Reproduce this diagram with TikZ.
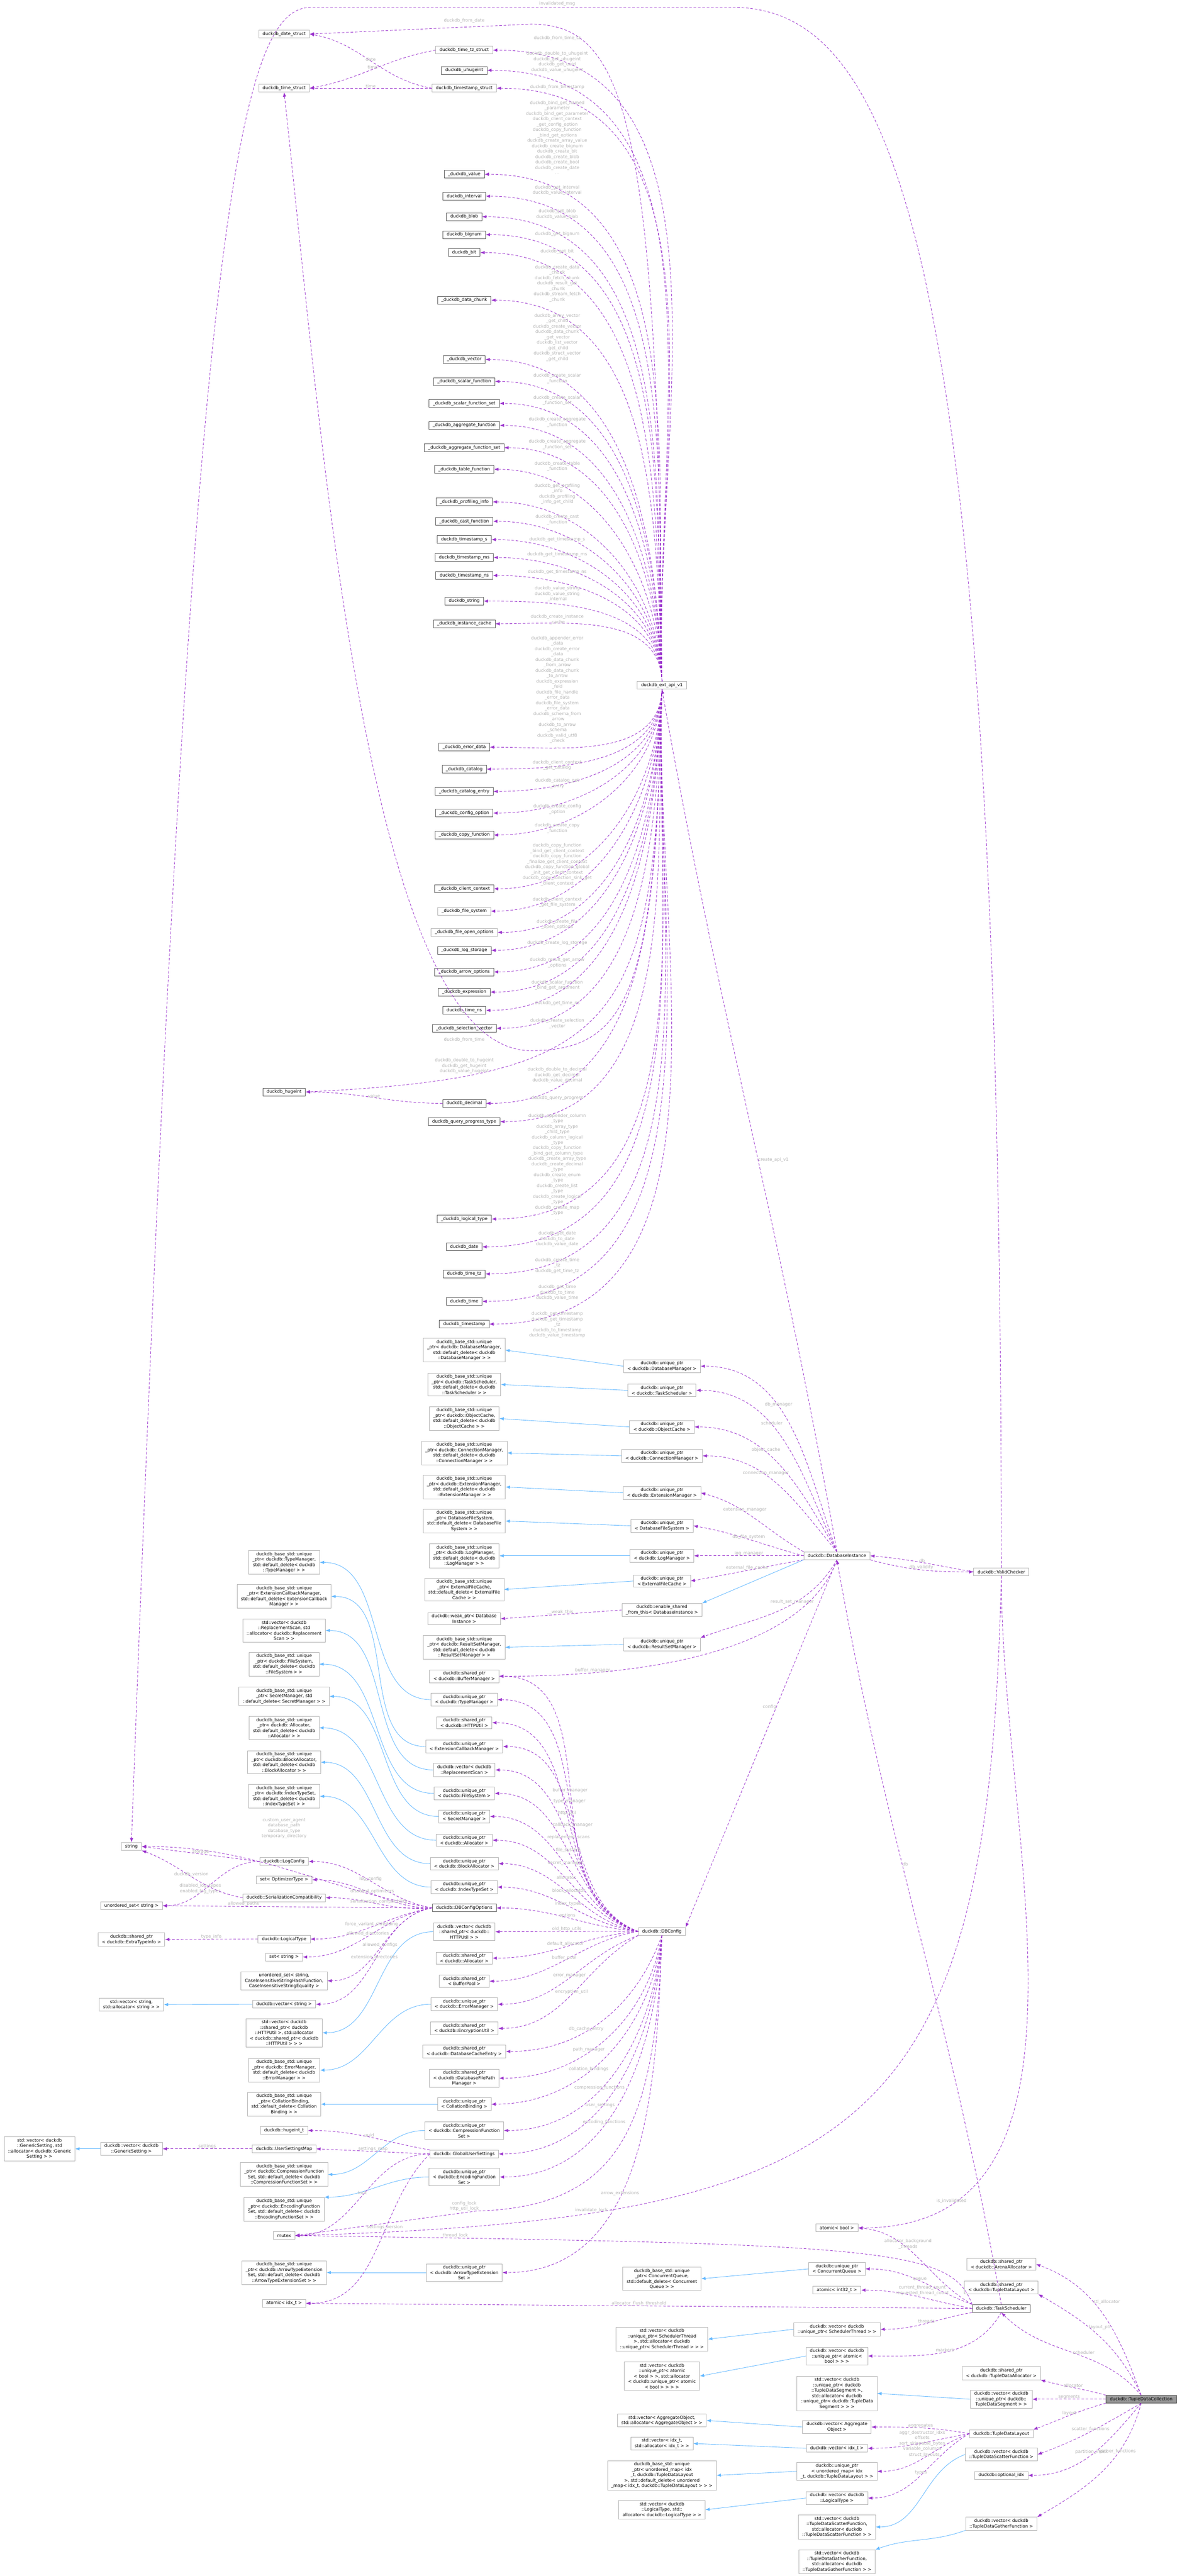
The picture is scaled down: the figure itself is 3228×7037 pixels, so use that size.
\documentclass[tikz,border=0pt]{standalone}
\usepackage{fontspec}
\setmainfont{DejaVu Sans}
\usetikzlibrary{arrows.meta}
\definecolor{depcol}{HTML}{9A32CD}
\definecolor{inhcol}{HTML}{63B8FF}
\begin{document}
\catcode`\_=12
\begin{tikzpicture}[x=0.01cm,y=-0.01cm,>/.tip={Latex[length=3.4pt,width=2.6pt]},
	every node/.style={font=\fontsize{3.4}{4.2}\selectfont},
	lt/.style={draw=black!30,fill=white,align=center,inner xsep=3pt,inner ysep=1.3pt,minimum height=6pt,line width=0.3pt},
	dk/.style={lt,draw=black!65},
	self/.style={lt,draw=black!70,fill=black!40},
	dep/.style={->,depcol,dashed,dash pattern=on 2pt off 1.4pt,line width=0.35pt},
	inh/.style={->,inhcol,line width=0.35pt},
	lbl/.style={text=black!30,align=center,inner sep=0pt}]
	\useasboundingbox (0,0) rectangle (3228,7037);

	% plain C structs of the extension api
	\node[lt] (datestruct) at (776,93) {duckdb_date_struct};
	\node[lt] (timestruct) at (776,241) {duckdb_time_struct};
	\node[dk] (hugeint) at (776,2983) {duckdb_hugeint};
	\node[lt] (timetzstruct) at (1268,137) {duckdb_time_tz_struct};
	\node[dk] (uhugeint) at (1268,192) {duckdb_uhugeint};
	\node[lt] (timestampstruct) at (1268,241) {duckdb_timestamp_struct};
	\node[dk] (value) at (1268,476) {_duckdb_value};
	\node[dk] (interval) at (1268,536) {duckdb_interval};
	\node[dk] (blob) at (1268,592) {duckdb_blob};
	\node[dk] (bignum) at (1268,641) {duckdb_bignum};
	\node[dk] (bit) at (1268,690) {duckdb_bit};
	\node[dk] (datachunk) at (1268,820) {_duckdb_data_chunk};
	\node[dk] (vector) at (1268,982) {_duckdb_vector};
	\node[dk] (scalarfn) at (1268,1042) {_duckdb_scalar_function};
	\node[dk] (scalarfnset) at (1268,1102) {_duckdb_scalar_function_set};
	\node[dk] (aggrfn) at (1268,1162) {_duckdb_aggregate_function};
	\node[dk] (aggrfnset) at (1268,1223) {_duckdb_aggregate_function_set};
	\node[dk] (tablefn) at (1268,1282) {_duckdb_table_function};
	\node[dk] (profiling) at (1268,1371) {_duckdb_profiling_info};
	\node[dk] (castfn) at (1268,1424) {_duckdb_cast_function};
	\node[dk] (tss) at (1268,1474) {duckdb_timestamp_s};
	\node[dk] (tsms) at (1268,1523) {duckdb_timestamp_ms};
	\node[dk] (tsns) at (1268,1572) {duckdb_timestamp_ns};
	\node[dk] (dstring) at (1268,1642) {duckdb_string};
	\node[dk] (instcache) at (1268,1704) {_duckdb_instance_cache};
	\node[dk] (errdata) at (1268,2041) {_duckdb_error_data};
	\node[dk] (catalog) at (1268,2101) {_duckdb_catalog};
	\node[dk] (catentry) at (1268,2162) {_duckdb_catalog_entry};
	\node[dk] (cfgoption) at (1268,2221) {_duckdb_config_option};
	\node[dk] (copyfn) at (1268,2281) {_duckdb_copy_function};
	\node[dk] (clientctx) at (1268,2428) {_duckdb_client_context};
	\node[lt] (filesys) at (1268,2489) {_duckdb_file_system};
	\node[lt] (fileopen) at (1268,2547) {_duckdb_file_open_options};
	\node[dk] (logstorage) at (1268,2596) {_duckdb_log_storage};
	\node[dk] (arrowopt) at (1268,2655) {_duckdb_arrow_options};
	\node[dk] (expression) at (1268,2710) {_duckdb_expression};
	\node[dk] (timens) at (1268,2760) {duckdb_time_ns};
	\node[dk] (selvec) at (1268,2809) {_duckdb_selection_vector};
	\node[dk] (decimal) at (1268,3014) {duckdb_decimal};
	\node[dk] (qprogress) at (1268,3064) {duckdb_query_progress_type};
	\node[dk] (logtype) at (1268,3330) {_duckdb_logical_type};
	\node[dk] (date) at (1268,3406) {duckdb_date};
	\node[dk] (timetz) at (1268,3480) {duckdb_time_tz};
	\node[dk] (time) at (1268,3555) {duckdb_time};
	\node[dk] (timestamp) at (1268,3617) {duckdb_timestamp};
	\node[lt] (api) at (1808,1872) {duckdb_ext_api_v1};

	% database instance and its members
	\node[lt] (baseDM) at (1268,3688) {duckdb_base_std::unique\\_ptr< duckdb::DatabaseManager,\\std::default_delete< duckdb\\::DatabaseManager > >};
	\node[lt] (baseTS) at (1268,3782) {duckdb_base_std::unique\\_ptr< duckdb::TaskScheduler,\\std::default_delete< duckdb\\::TaskScheduler > >};
	\node[lt] (baseOC) at (1268,3875) {duckdb_base_std::unique\\_ptr< duckdb::ObjectCache,\\std::default_delete< duckdb\\::ObjectCache > >};
	\node[lt] (baseCM) at (1268,3969) {duckdb_base_std::unique\\_ptr< duckdb::ConnectionManager,\\std::default_delete< duckdb\\::ConnectionManager > >};
	\node[lt] (baseEM) at (1268,4062) {duckdb_base_std::unique\\_ptr< duckdb::ExtensionManager,\\std::default_delete< duckdb\\::ExtensionManager > >};
	\node[lt] (baseDFS) at (1268,4155) {duckdb_base_std::unique\\_ptr< DatabaseFileSystem,\\std::default_delete< DatabaseFile\\System > >};
	\node[lt] (baseLM) at (1268,4250) {duckdb_base_std::unique\\_ptr< duckdb::LogManager,\\std::default_delete< duckdb\\::LogManager > >};
	\node[lt] (baseEFC) at (1268,4342) {duckdb_base_std::unique\\_ptr< ExternalFileCache,\\std::default_delete< ExternalFile\\Cache > >};
	\node[lt] (weakDI) at (1268,4422) {duckdb::weak_ptr< Database\\Instance >};
	\node[lt] (baseRSM) at (1268,4500) {duckdb_base_std::unique\\_ptr< duckdb::ResultSetManager,\\std::default_delete< duckdb\\::ResultSetManager > >};
	\node[lt] (uDM) at (1808,3732) {duckdb::unique_ptr\\< duckdb::DatabaseManager >};
	\node[lt] (uTS) at (1808,3798) {duckdb::unique_ptr\\< duckdb::TaskScheduler >};
	\node[lt] (uOC) at (1808,3898) {duckdb::unique_ptr\\< duckdb::ObjectCache >};
	\node[lt] (uCM) at (1808,3977) {duckdb::unique_ptr\\< duckdb::ConnectionManager >};
	\node[lt] (uEM) at (1808,4078) {duckdb::unique_ptr\\< duckdb::ExtensionManager >};
	\node[lt] (uDFS) at (1808,4168) {duckdb::unique_ptr\\< DatabaseFileSystem >};
	\node[lt] (uLM) at (1808,4250) {duckdb::unique_ptr\\< duckdb::LogManager >};
	\node[lt] (uEFC) at (1808,4319) {duckdb::unique_ptr\\< ExternalFileCache >};
	\node[lt] (sharedDI) at (1808,4398) {duckdb::enable_shared\\_from_this< DatabaseInstance >};
	\node[lt] (uRSM) at (1808,4492) {duckdb::unique_ptr\\< duckdb::ResultSetManager >};
	\node[lt] (dbinst) at (2286,4250) {duckdb::DatabaseInstance};
	\node[lt] (validchk) at (2735,4294) {duckdb::ValidChecker};
	\node[lt] (dbconfig) at (1808,5276) {duckdb::DBConfig};

	% config members
	\node[lt] (sBM) at (1268,4579) {duckdb::shared_ptr\\< duckdb::BufferManager >};
	\node[lt] (uTM) at (1268,4643) {duckdb::unique_ptr\\< duckdb::TypeManager >};
	\node[lt] (sHU) at (1268,4706) {duckdb::shared_ptr\\< duckdb::HTTPUtil >};
	\node[lt] (uECM) at (1268,4771) {duckdb::unique_ptr\\< ExtensionCallbackManager >};
	\node[lt] (vRS) at (1268,4835) {duckdb::vector< duckdb\\::ReplacementScan >};
	\node[lt] (uFS) at (1268,4899) {duckdb::unique_ptr\\< duckdb::FileSystem >};
	\node[lt] (uSM) at (1268,4962) {duckdb::unique_ptr\\< SecretManager >};
	\node[lt] (uAl) at (1268,5027) {duckdb::unique_ptr\\< duckdb::Allocator >};
	\node[lt] (uBA) at (1268,5091) {duckdb::unique_ptr\\< duckdb::BlockAllocator >};
	\node[lt] (uITS) at (1268,5155) {duckdb::unique_ptr\\< duckdb::IndexTypeSet >};
	\node[dk] (cfgopts) at (1268,5212) {duckdb::DBConfigOptions};
	\node[lt] (vHU) at (1268,5277) {duckdb::vector< duckdb\\::shared_ptr< duckdb::\\HTTPUtil > >};
	\node[lt] (sAl) at (1268,5349) {duckdb::shared_ptr\\< duckdb::Allocator >};
	\node[lt] (sBP) at (1268,5412) {duckdb::shared_ptr\\< BufferPool >};
	\node[lt] (uErM) at (1268,5475) {duckdb::unique_ptr\\< duckdb::ErrorManager >};
	\node[lt] (sEU) at (1268,5541) {duckdb::shared_ptr\\< duckdb::EncryptionUtil >};
	\node[lt] (sDCE) at (1268,5604) {duckdb::shared_ptr\\< duckdb::DatabaseCacheEntry >};
	\node[lt] (sDFPM) at (1268,5677) {duckdb::shared_ptr\\< duckdb::DatabaseFilePath\\Manager >};
	\node[lt] (uCB) at (1268,5748) {duckdb::unique_ptr\\< CollationBinding >};
	\node[lt] (uCFS) at (1268,5820) {duckdb::unique_ptr\\< duckdb::CompressionFunction\\Set >};
	\node[lt] (globset) at (1268,5884) {duckdb::GlobalUserSettings};
	\node[lt] (uEFS) at (1268,5947) {duckdb::unique_ptr\\< duckdb::EncodingFunction\\Set >};
	\node[lt] (uATE) at (1268,6208) {duckdb::unique_ptr\\< duckdb::ArrowTypeExtension\\Set >};

	\node[lt] (baseTM) at (776,4268) {duckdb_base_std::unique\\_ptr< duckdb::TypeManager,\\std::default_delete< duckdb\\::TypeManager > >};
	\node[lt] (baseECM) at (776,4361) {duckdb_base_std::unique\\_ptr< ExtensionCallbackManager,\\std::default_delete< ExtensionCallback\\Manager > >};
	\node[lt] (stdRS) at (776,4454) {std::vector< duckdb\\::ReplacementScan, std\\::allocator< duckdb::Replacement\\Scan > >};
	\node[lt] (baseFS) at (776,4546) {duckdb_base_std::unique\\_ptr< duckdb::FileSystem,\\std::default_delete< duckdb\\::FileSystem > >};
	\node[lt] (baseSM) at (776,4634) {duckdb_base_std::unique\\_ptr< SecretManager, std\\::default_delete< SecretManager > >};
	\node[lt] (baseAl) at (776,4720) {duckdb_base_std::unique\\_ptr< duckdb::Allocator,\\std::default_delete< duckdb\\::Allocator > >};
	\node[lt] (baseBA) at (776,4814) {duckdb_base_std::unique\\_ptr< duckdb::BlockAllocator,\\std::default_delete< duckdb\\::BlockAllocator > >};
	\node[lt] (baseITS) at (776,4907) {duckdb_base_std::unique\\_ptr< duckdb::IndexTypeSet,\\std::default_delete< duckdb\\::IndexTypeSet > >};
	\node[lt] (string) at (359,5044) {string};
	\node[lt] (logcfg) at (776,5085) {duckdb::LogConfig};
	\node[lt] (setopt) at (776,5135) {set< OptimizerType >};
	\node[lt] (sercompat) at (776,5184) {duckdb::SerializationCompatibility};
	\node[lt] (uset) at (359,5206) {unordered_set< string >};
	\node[lt] (logtp) at (776,5297) {duckdb::LogicalType};
	\node[lt] (sETI) at (359,5298) {duckdb::shared_ptr\\< duckdb::ExtraTypeInfo >};
	\node[lt] (setstr) at (776,5346) {set< string >};
	\node[lt] (usetci) at (776,5411) {unordered_set< string,\\CaseInsensitiveStringHashFunction,\\CaseInsensitiveStringEquality >};
	\node[lt] (vstr) at (776,5475) {duckdb::vector< string >};
	\node[lt] (stdstr) at (359,5476) {std::vector< string,\\std::allocator< string > >};
	\node[lt] (stdHU) at (776,5553) {std::vector< duckdb\\::shared_ptr< duckdb\\::HTTPUtil >, std::allocator\\< duckdb::shared_ptr< duckdb\\::HTTPUtil > > >};
	\node[lt] (baseErM) at (776,5655) {duckdb_base_std::unique\\_ptr< duckdb::ErrorManager,\\std::default_delete< duckdb\\::ErrorManager > >};
	\node[lt] (baseCB) at (776,5748) {duckdb_base_std::unique\\_ptr< CollationBinding,\\std::default_delete< Collation\\Binding > >};
	\node[lt] (hugeintt) at (776,5820) {duckdb::hugeint_t};
	\node[lt] (stdGS) at (108,5870) {std::vector< duckdb\\::GenericSetting, std\\::allocator< duckdb::Generic\\Setting > >};
	\node[lt] (vGS) at (359,5870) {duckdb::vector< duckdb\\::GenericSetting >};
	\node[lt] (usermap) at (776,5870) {duckdb::UserSettingsMap};
	\node[lt] (baseCFS) at (776,5940) {duckdb_base_std::unique\\_ptr< duckdb::CompressionFunction\\Set, std::default_delete< duckdb\\::CompressionFunctionSet > >};
	\node[lt] (baseEFS) at (776,6035) {duckdb_base_std::unique\\_ptr< duckdb::EncodingFunction\\Set, std::default_delete< duckdb\\::EncodingFunctionSet > >};
	\node[lt] (mutex) at (776,6107) {mutex};
	\node[lt] (baseATE) at (776,6208) {duckdb_base_std::unique\\_ptr< duckdb::ArrowTypeExtension\\Set, std::default_delete< duckdb\\::ArrowTypeExtensionSet > >};
	\node[lt] (atomicidx) at (776,6292) {atomic< idx_t >};

	% scheduler and tuple data collection
	\node[lt] (atomicbool) at (2286,6086) {atomic< bool >};
	\node[lt] (sAA) at (2735,6185) {duckdb::shared_ptr\\< duckdb::ArenaAllocator >};
	\node[lt] (baseCQ) at (1808,6225) {duckdb_base_std::unique\\_ptr< ConcurrentQueue,\\std::default_delete< Concurrent\\Queue > >};
	\node[lt] (uCQ) at (2286,6198) {duckdb::unique_ptr\\< ConcurrentQueue >};
	\node[lt] (atomicint) at (2286,6256) {atomic< int32_t >};
	\node[lt] (sTDL) at (2735,6249) {duckdb::shared_ptr\\< duckdb::TupleDataLayout >};
	\node[dk] (sched) at (2735,6306) {duckdb::TaskScheduler};
	\node[lt] (stdST) at (1808,6390) {std::vector< duckdb\\::unique_ptr< SchedulerThread\\ >, std::allocator< duckdb\\::unique_ptr< SchedulerThread > > >};
	\node[lt] (vST) at (2286,6363) {duckdb::vector< duckdb\\::unique_ptr< SchedulerThread > >};
	\node[lt] (vAB) at (2286,6436) {duckdb::vector< duckdb\\::unique_ptr< atomic<\\bool > > >};
	\node[lt] (stdAB) at (1808,6491) {std::vector< duckdb\\::unique_ptr< atomic\\< bool > >, std::allocator\\< duckdb::unique_ptr< atomic\\< bool > > > >};
	\node[lt] (sTDA) at (2735,6483) {duckdb::shared_ptr\\< duckdb::TupleDataAllocator >};
	\node[lt] (stdSeg) at (2286,6538) {std::vector< duckdb\\::unique_ptr< duckdb\\::TupleDataSegment >,\\std::allocator< duckdb\\::unique_ptr< duckdb::TupleData\\Segment > > >};
	\node[lt] (vSeg) at (2735,6554) {duckdb::vector< duckdb\\::unique_ptr< duckdb::\\TupleDataSegment > >};
	\node[self] (tdc) at (3117,6554) {duckdb::TupleDataCollection};
	\node[lt] (stdAO) at (1808,6612) {std::vector< AggregateObject,\\std::allocator< AggregateObject > >};
	\node[lt] (vAO) at (2286,6630) {duckdb::vector< Aggregate\\Object >};
	\node[lt] (layout) at (2735,6648) {duckdb::TupleDataLayout};
	\node[lt] (stdIdx) at (1808,6675) {std::vector< idx_t,\\std::allocator< idx_t > >};
	\node[lt] (vIdx) at (2286,6688) {duckdb::vector< idx_t >};
	\node[lt] (vScat) at (2735,6705) {duckdb::vector< duckdb\\::TupleDataScatterFunction >};
	\node[lt] (baseUM) at (1808,6762) {duckdb_base_std::unique\\_ptr< unordered_map< idx\\_t, duckdb::TupleDataLayout\\>, std::default_delete< unordered\\_map< idx_t, duckdb::TupleDataLayout > > >};
	\node[lt] (uUM) at (2286,6751) {duckdb::unique_ptr\\< unordered_map< idx\\_t, duckdb::TupleDataLayout > >};
	\node[lt] (optidx) at (2735,6762) {duckdb::optional_idx};
	\node[lt] (vLT) at (2286,6824) {duckdb::vector< duckdb\\::LogicalType >};
	\node[lt] (stdLT) at (1808,6856) {std::vector< duckdb\\::LogicalType, std::\\allocator< duckdb::LogicalType > >};
	\node[lt] (vGat) at (2735,6894) {duckdb::vector< duckdb\\::TupleDataGatherFunction >};
	\node[lt] (stdScat) at (2286,6903) {std::vector< duckdb\\::TupleDataScatterFunction,\\std::allocator< duckdb\\::TupleDataScatterFunction > >};
	\node[lt] (stdGat) at (2286,6998) {std::vector< duckdb\\::TupleDataGatherFunction,\\std::allocator< duckdb\\::TupleDataGatherFunction > >};

	% struct members
	\draw[dep] (timestampstruct.west) to[out=170,in=-10] node[lbl,above,pos=0.5] {date} (datestruct.east);
	\draw[dep] (timestampstruct.west) -- node[lbl,above] {time} (timestruct.east);
	\draw[dep] (timetzstruct.west) to[out=190,in=10] node[lbl,above] {time} (timestruct.east);
	\draw[dep] (decimal.west) to[out=180,in=0] node[lbl,above] {value} (hugeint.east);

	% extension api members
	\draw[dep] (api.north) .. controls (1800,300) and (1700,66) .. (1450,66) -- (datestruct.east);
	\node[lbl] at (1268,57) {duckdb_from_date};
	\draw[dep] (api.north) to[out=92,in=0] (timetzstruct.east);
	\node[lbl] at (1522,105) {duckdb_from_time_tz};
	\draw[dep] (api.north) to[out=92,in=0] (uhugeint.east);
	\node[lbl] at (1522,169) {duckdb_double_to_uhugeint\\duckdb_get_uhugeint\\duckdb_get_uuid\\duckdb_value_uhugeint};
	\draw[dep] (api.north) to[out=92,in=0] (timestampstruct.east);
	\node[lbl] at (1522,238) {duckdb_from_timestamp};
	\draw[dep] (api.north) to[out=92,in=0] (value.east);
	\node[lbl] at (1522,376) {duckdb_bind_get_named\\_parameter\\duckdb_bind_get_parameter\\duckdb_client_context\\_get_config_option\\duckdb_copy_function\\_bind_get_options\\duckdb_create_array_value\\duckdb_create_bignum\\duckdb_create_bit\\duckdb_create_blob\\duckdb_create_bool\\duckdb_create_date\\...};
	\draw[dep] (api.north) to[out=92,in=0] (interval.east);
	\node[lbl] at (1522,520) {duckdb_get_interval\\duckdb_value_interval};
	\draw[dep] (api.north) to[out=92,in=0] (blob.east);
	\node[lbl] at (1522,585) {duckdb_get_blob\\duckdb_value_blob};
	\draw[dep] (api.north) to[out=92,in=0] (bignum.east);
	\node[lbl] at (1522,640) {duckdb_get_bignum};
	\draw[dep] (api.north) to[out=92,in=0] (bit.east);
	\node[lbl] at (1522,687) {duckdb_get_bit};
	\draw[dep] (api.north) to[out=92,in=0] (datachunk.east);
	\node[lbl] at (1522,775) {duckdb_create_data\\_chunk\\duckdb_fetch_chunk\\duckdb_result_get\\_chunk\\duckdb_stream_fetch\\_chunk};
	\draw[dep] (api.north) to[out=92,in=0] (vector.east);
	\node[lbl] at (1522,922) {duckdb_array_vector\\_get_child\\duckdb_create_vector\\duckdb_data_chunk\\_get_vector\\duckdb_list_vector\\_get_child\\duckdb_struct_vector\\_get_child};
	\draw[dep] (api.north) to[out=92,in=0] (scalarfn.east);
	\node[lbl] at (1522,1034) {duckdb_create_scalar\\_function};
	\draw[dep] (api.north) to[out=92,in=0] (scalarfnset.east);
	\node[lbl] at (1522,1094) {duckdb_create_scalar\\_function_set};
	\draw[dep] (api.north) to[out=92,in=0] (aggrfn.east);
	\node[lbl] at (1522,1154) {duckdb_create_aggregate\\_function};
	\draw[dep] (api.north) to[out=92,in=0] (aggrfnset.east);
	\node[lbl] at (1522,1214) {duckdb_create_aggregate\\_function_set};
	\draw[dep] (api.north) to[out=92,in=0] (tablefn.east);
	\node[lbl] at (1522,1274) {duckdb_create_table\\_function};
	\draw[dep] (api.north) to[out=92,in=0] (profiling.east);
	\node[lbl] at (1522,1349) {duckdb_get_profiling\\_info\\duckdb_profiling\\_info_get_child};
	\draw[dep] (api.north) to[out=92,in=0] (castfn.east);
	\node[lbl] at (1522,1420) {duckdb_create_cast\\_function};
	\draw[dep] (api.north) to[out=92,in=0] (tss.east);
	\node[lbl] at (1522,1474) {duckdb_get_timestamp_s};
	\draw[dep] (api.north) to[out=92,in=0] (tsms.east);
	\node[lbl] at (1522,1515) {duckdb_get_timestamp_ms};
	\draw[dep] (api.north) to[out=92,in=0] (tsns.east);
	\node[lbl] at (1522,1562) {duckdb_get_timestamp_ns};
	\draw[dep] (api.north) to[out=92,in=0] (dstring.east);
	\node[lbl] at (1522,1623) {duckdb_value_string\\duckdb_value_string\\_internal};
	\draw[dep] (api.north) to[out=92,in=0] (instcache.east);
	\node[lbl] at (1522,1693) {duckdb_create_instance\\_cache};
	\draw[dep] (api.south) to[out=-92,in=0] (errdata.east);
	\node[lbl] at (1522,1890) {duckdb_appender_error\\_data\\duckdb_create_error\\_data\\duckdb_data_chunk\\_from_arrow\\duckdb_data_chunk\\_to_arrow\\duckdb_expression\\_fold\\duckdb_file_handle\\_error_data\\duckdb_file_system\\_error_data\\duckdb_schema_from\\_arrow\\duckdb_to_arrow\\_schema\\duckdb_valid_utf8\\_check\\...};
	\draw[dep] (api.south) to[out=-92,in=0] (catalog.east);
	\node[lbl] at (1522,2090) {duckdb_client_context\\_get_catalog};
	\draw[dep] (api.south) to[out=-92,in=0] (catentry.east);
	\node[lbl] at (1522,2140) {duckdb_catalog_get\\_entry};
	\draw[dep] (api.south) to[out=-92,in=0] (cfgoption.east);
	\node[lbl] at (1522,2211) {duckdb_create_config\\_option};
	\draw[dep] (api.south) to[out=-92,in=0] (copyfn.east);
	\node[lbl] at (1522,2263) {duckdb_create_copy\\_function};
	\draw[dep] (api.south) to[out=-92,in=0] (clientctx.east);
	\node[lbl] at (1522,2362) {duckdb_copy_function\\_bind_get_client_context\\duckdb_copy_function\\_finalize_get_client_context\\duckdb_copy_function_global\\_init_get_client_context\\duckdb_copy_function_sink_get\\_client_context};
	\draw[dep] (api.south) to[out=-92,in=0] (filesys.east);
	\node[lbl] at (1522,2465) {duckdb_client_context\\_get_file_system};
	\draw[dep] (api.south) to[out=-92,in=0] (fileopen.east);
	\node[lbl] at (1522,2525) {duckdb_create_file\\_open_options};
	\draw[dep] (api.south) to[out=-92,in=0] (logstorage.east);
	\node[lbl] at (1522,2576) {duckdb_create_log_storage};
	\draw[dep] (api.south) to[out=-92,in=0] (arrowopt.east);
	\node[lbl] at (1522,2630) {duckdb_result_get_arrow\\_options};
	\draw[dep] (api.south) to[out=-92,in=0] (expression.east);
	\node[lbl] at (1522,2691) {duckdb_scalar_function\\_bind_get_argument};
	\draw[dep] (api.south) to[out=-92,in=0] (timens.east);
	\node[lbl] at (1522,2741) {duckdb_get_time_ns};
	\draw[dep] (api.south) to[out=-92,in=0] (selvec.east);
	\node[lbl] at (1522,2796) {duckdb_create_selection\\_vector};
	\draw[dep] (api.south) .. controls (1790,2700) and (1720,2870) .. (1450,2870) .. controls (1000,2870) and (880,1200) .. (timestruct.south);
	\node[lbl] at (1268,2840) {duckdb_from_time};
	\draw[dep] (api.south) .. controls (1790,2800) and (1700,2940) .. (hugeint.east);
	\node[lbl] at (1268,2912) {duckdb_double_to_hugeint\\duckdb_get_hugeint\\duckdb_value_hugeint};
	\draw[dep] (api.south) to[out=-92,in=0] (decimal.east);
	\node[lbl] at (1522,2937) {duckdb_double_to_decimal\\duckdb_get_decimal\\duckdb_value_decimal};
	\draw[dep] (api.south) to[out=-92,in=0] (qprogress.east);
	\node[lbl] at (1522,3000) {duckdb_query_progress};
	\draw[dep] (api.south) to[out=-92,in=0] (logtype.east);
	\node[lbl] at (1522,3187) {duckdb_appender_column\\_type\\duckdb_array_type\\_child_type\\duckdb_column_logical\\_type\\duckdb_copy_function\\_bind_get_column_type\\duckdb_create_array_type\\duckdb_create_decimal\\_type\\duckdb_create_enum\\_type\\duckdb_create_list\\_type\\duckdb_create_logical\\_type\\duckdb_create_map\\_type\\...};
	\draw[dep] (api.south) to[out=-92,in=0] (date.east);
	\node[lbl] at (1522,3385) {duckdb_get_date\\duckdb_to_date\\duckdb_value_date};
	\draw[dep] (api.south) to[out=-92,in=0] (timetz.east);
	\node[lbl] at (1522,3457) {duckdb_create_time\\_tz\\duckdb_get_time_tz};
	\draw[dep] (api.south) to[out=-92,in=0] (time.east);
	\node[lbl] at (1522,3531) {duckdb_get_time\\duckdb_to_time\\duckdb_value_time};
	\draw[dep] (api.south) to[out=-92,in=0] (timestamp.east);
	\node[lbl] at (1522,3619) {duckdb_get_timestamp\\duckdb_get_timestamp\\_tz\\duckdb_to_timestamp\\duckdb_value_timestamp};

	% database instance
	\draw[dep] (dbinst.north) to[out=100,in=-80] node[lbl,pos=0.45,right] {create_api_v1} (api.south);
	\draw[dep] (dbinst.north) to[out=110,in=0] node[lbl,pos=0.6,above] {db_manager} (uDM.east);
	\draw[dep] (dbinst.north) to[out=115,in=0] node[lbl,pos=0.6,above] {scheduler} (uTS.east);
	\draw[dep] (dbinst.north) to[out=120,in=0] node[lbl,pos=0.6,above] {object_cache} (uOC.east);
	\draw[dep] (dbinst.north) to[out=130,in=0] node[lbl,pos=0.6,above] {connection_manager} (uCM.east);
	\draw[dep] (dbinst.north west) to[out=150,in=-15] node[lbl,pos=0.6,above] {extension_manager} (uEM.east);
	\draw[dep] (dbinst.west) to[out=165,in=-10] node[lbl,above] {db_file_system} (uDFS.east);
	\draw[dep] (dbinst.west) -- node[lbl,above] {log_manager} (uLM.east);
	\draw[dep] (dbinst.south west) to[out=190,in=10] node[lbl,above] {external_file_cache} (uEFC.east);
	\draw[inh] (dbinst.south west) -- (sharedDI.north east);
	\draw[dep] (dbinst.south) to[out=-120,in=20] node[lbl,pos=0.4,above] {result_set_manager} (uRSM.north east);
	\draw[dep] (dbinst.south) .. controls (2200,4500) and (1800,4580) .. node[lbl,pos=0.8,above] {buffer_manager} (sBM.east);
	\draw[dep] (dbinst.south) -- node[lbl,pos=0.4,left] {config} (dbconfig.north east);
	\draw[dep] (dbinst.south east) to[out=-15,in=180] node[lbl,pos=0.5,above] {db_validity} (validchk.west);
	\draw[dep] (validchk.west) to[out=170,in=-5] node[lbl,above] {db} (dbinst.east);
	\draw[dep] (validchk.north) .. controls (2735,700) and (2450,20) .. (2000,20) -- (850,20) .. controls (650,20) and (520,600) .. (string.north);
	\node[lbl] at (1522,10) {invalidated_msg};
	\draw[inh] (uDM.west) -- (baseDM.east);
	\draw[inh] (uTS.west) -- (baseTS.east);
	\draw[inh] (uOC.west) -- (baseOC.east);
	\draw[inh] (uCM.west) -- (baseCM.east);
	\draw[inh] (uEM.west) -- (baseEM.east);
	\draw[inh] (uDFS.west) -- (baseDFS.east);
	\draw[inh] (uLM.west) -- (baseLM.east);
	\draw[inh] (uEFC.west) -- (baseEFC.east);
	\draw[inh] (uRSM.west) -- (baseRSM.east);
	\draw[dep] (sharedDI.west) -- node[lbl,above] {__weak_this_} (weakDI.east);

	% config
	\draw[dep] (dbconfig.west) to[out=165,in=0] node[lbl,pos=0.5,above] {buffer_manager} (sBM.east);
	\draw[dep] (dbconfig.west) to[out=163,in=0] node[lbl,pos=0.5,above] {type_manager} (uTM.east);
	\draw[dep] (dbconfig.west) to[out=162,in=0] node[lbl,pos=0.5,above] {http_util} (sHU.east);
	\draw[dep] (dbconfig.west) to[out=160,in=0] node[lbl,pos=0.5,above] {callback_manager} (uECM.east);
	\draw[dep] (dbconfig.west) to[out=160,in=0] node[lbl,pos=0.5,above] {replacement_scans} (vRS.east);
	\draw[dep] (dbconfig.west) to[out=160,in=0] node[lbl,pos=0.5,above] {file_system} (uFS.east);
	\draw[dep] (dbconfig.west) to[out=162,in=0] node[lbl,pos=0.5,above] {secret_manager} (uSM.east);
	\draw[dep] (dbconfig.west) to[out=165,in=0] node[lbl,pos=0.5,above] {allocator} (uAl.east);
	\draw[dep] (dbconfig.west) to[out=170,in=0] node[lbl,pos=0.5,above] {block_allocator} (uBA.east);
	\draw[dep] (dbconfig.west) to[out=172,in=0] node[lbl,pos=0.5,above] {index_types} (uITS.east);
	\draw[dep] (dbconfig.west) to[out=175,in=0] node[lbl,pos=0.5,above] {options} (cfgopts.east);
	\draw[dep] (dbconfig.west) -- node[lbl,pos=0.5,above] {old_http_utils} (vHU.east);
	\draw[dep] (dbconfig.west) to[out=185,in=0] node[lbl,pos=0.5,above] {default_allocator} (sAl.east);
	\draw[dep] (dbconfig.west) to[out=190,in=0] node[lbl,pos=0.5,above] {buffer_pool} (sBP.east);
	\draw[dep] (dbconfig.south west) to[out=200,in=0] node[lbl,pos=0.5,above] {error_manager} (uErM.east);
	\draw[dep] (dbconfig.south west) to[out=210,in=0] node[lbl,pos=0.5,above] {encryption_util} (sEU.east);
	\draw[dep] (dbconfig.south) to[out=-110,in=0] node[lbl,pos=0.6,above] {db_cache_entry} (sDCE.east);
	\draw[dep] (dbconfig.south) to[out=-100,in=0] node[lbl,pos=0.6,above] {path_manager} (sDFPM.east);
	\draw[dep] (dbconfig.south) to[out=-97,in=0] node[lbl,pos=0.6,above] {collation_bindings} (uCB.east);
	\draw[dep] (dbconfig.south) to[out=-95,in=0] node[lbl,pos=0.6,above] {compression_functions} (uCFS.east);
	\draw[dep] (dbconfig.south) to[out=-94,in=0] node[lbl,pos=0.6,above] {user_settings} (globset.east);
	\draw[dep] (dbconfig.south) to[out=-93,in=0] node[lbl,pos=0.6,above] {encoding_functions} (uEFS.east);
	\draw[dep] (dbconfig.south) to[out=-92,in=0] node[lbl,pos=0.6,above] {arrow_extensions} (uATE.east);
	\draw[dep] (dbconfig.south) .. controls (1790,5800) and (1700,6030) .. (1300,6040) -- (mutex.east);
	\node[lbl] at (1268,6027) {config_lock\\http_util_lock};
	\draw[inh] (uTM.west) to[out=180,in=0] (baseTM.east);
	\draw[inh] (uECM.west) to[out=180,in=0] (baseECM.east);
	\draw[inh] (vRS.west) to[out=180,in=0] (stdRS.east);
	\draw[inh] (uFS.west) to[out=180,in=0] (baseFS.east);
	\draw[inh] (uSM.west) to[out=180,in=0] (baseSM.east);
	\draw[inh] (uAl.west) to[out=180,in=0] (baseAl.east);
	\draw[inh] (uBA.west) to[out=180,in=0] (baseBA.east);
	\draw[inh] (uITS.west) to[out=180,in=0] (baseITS.east);
	\draw[inh] (vHU.west) to[out=180,in=0] (stdHU.east);
	\draw[inh] (uErM.west) to[out=180,in=0] (baseErM.east);
	\draw[inh] (uCB.west) -- (baseCB.east);
	\draw[inh] (uCFS.west) to[out=180,in=0] (baseCFS.east);
	\draw[inh] (uEFS.west) to[out=180,in=0] (baseEFS.north east);
	\draw[inh] (uATE.west) -- (baseATE.east);

	% config options
	\draw[dep] (cfgopts.west) to[out=170,in=0] (string.east);
	\node[lbl] at (776,4995) {custom_user_agent\\database_path\\database_type\\temporary_directory};
	\draw[dep] (cfgopts.west) to[out=170,in=0] node[lbl,pos=0.5,above] {log_config} (logcfg.east);
	\draw[dep] (cfgopts.west) to[out=180,in=0] node[lbl,pos=0.5,above] {disabled_optimizers} (setopt.east);
	\draw[dep] (cfgopts.west) to[out=185,in=0] node[lbl,pos=0.5,above] {serialization_compatibility} (sercompat.east);
	\draw[dep] (cfgopts.west) -- node[lbl,pos=0.7,above] {allowed_paths} (uset.east);
	\draw[dep] (cfgopts.west) to[out=190,in=0] node[lbl,pos=0.5,above] {force_variant_shredding} (logtp.east);
	\draw[dep] (cfgopts.west) to[out=190,in=0] node[lbl,pos=0.5,above] {allowed_directories} (setstr.east);
	\draw[dep] (cfgopts.west) to[out=190,in=0] node[lbl,pos=0.5,above] {allowed_configs} (usetci.east);
	\draw[dep] (cfgopts.west) to[out=190,in=0] node[lbl,pos=0.5,above] {extension_directories} (vstr.east);
	\draw[dep] (logcfg.west) -- node[lbl,above] {storage} (string.east);
	\draw[dep] (logcfg.west) to[out=180,in=0] (uset.east);
	\node[lbl] at (547,5159) {disabled_log_types\\enabled_log_types};
	\draw[dep] (sercompat.west) to[out=170,in=-20] node[lbl,pos=0.5,above] {duckdb_version} (string.south east);
	\draw[dep] (logtp.west) -- node[lbl,above] {type_info} (sETI.east);
	\draw[inh] (vstr.west) -- (stdstr.east);

	% user settings
	\draw[dep] (globset.north west) to[out=170,in=0] node[lbl,pos=0.5,above] {uuid} (hugeintt.east);
	\draw[dep] (globset.west) -- node[lbl,above] {settings_map} (usermap.east);
	\draw[dep] (globset.west) to[out=180,in=0] node[lbl,pos=0.5,above] {lock} (mutex.east);
	\draw[dep] (globset.west) to[out=225,in=0] node[lbl,pos=0.4,above] {settings_version} (atomicidx.east);
	\draw[dep] (usermap.west) -- node[lbl,above] {settings} (vGS.east);
	\draw[inh] (vGS.west) -- (stdGS.east);

	% valid checker and scheduler
	\draw[dep] (validchk.south) to[out=-90,in=0] node[lbl,pos=0.85,above] {is_invalidated} (atomicbool.east);
	\draw[dep] (validchk.south) .. controls (2700,5800) and (2400,6060) .. node[lbl,pos=0.8,above] {invalidate_lock} (mutex.east);
	\draw[dep] (sched.north) to[out=100,in=-80] node[lbl,pos=0.6,right] {db} (dbinst.south);
	\draw[dep] (sched.north west) to[out=150,in=-5] node[lbl,pos=0.6,above] {allocator_background\\_threads} (atomicbool.east);
	\draw[dep] (sched.north west) .. controls (2600,6140) and (2400,6130) .. node[lbl,pos=0.9,above] {thread_lock} (mutex.east);
	\draw[dep] (sched.north west) to[out=160,in=0] node[lbl,pos=0.5,above] {queue} (uCQ.east);
	\draw[dep] (sched.west) to[out=170,in=0] (atomicint.east);
	\node[lbl] at (2519,6257) {current_thread_count\\requested_thread_count};
	\draw[dep] (sched.west) -- node[lbl,pos=0.5,above] {allocator_flush_threshold} (atomicidx.east);
	\draw[dep] (sched.south west) to[out=190,in=0] node[lbl,pos=0.5,above] {threads} (vST.east);
	\draw[dep] (sched.south) to[out=-120,in=0] node[lbl,pos=0.5,above] {markers} (vAB.east);
	\draw[inh] (uCQ.west) -- (baseCQ.east);
	\draw[inh] (vST.west) -- (stdST.east);
	\draw[inh] (vAB.west) -- (stdAB.east);

	% tuple data collection
	\draw[dep] (tdc.north) to[out=110,in=-20] node[lbl,pos=0.6,right] {stl_allocator} (sAA.east);
	\draw[dep] (tdc.north) to[out=115,in=-30] node[lbl,pos=0.6,right] {layout_ptr} (sTDL.south east);
	\draw[dep] (tdc.north) to[out=130,in=-45] node[lbl,pos=0.5,right] {scheduler} (sched.south);
	\draw[dep] (tdc.north west) to[out=165,in=-15] node[lbl,pos=0.5,above] {allocator} (sTDA.south east);
	\draw[dep] (tdc.west) -- node[lbl,above] {segments} (vSeg.east);
	\draw[dep] (tdc.south west) to[out=195,in=20] node[lbl,pos=0.5,above] {layout} (layout.north east);
	\draw[dep] (tdc.south) to[out=-150,in=20] node[lbl,pos=0.5,above] {scatter_functions} (vScat.east);
	\draw[dep] (tdc.south) to[out=-130,in=0] node[lbl,pos=0.5,above] {partition_index} (optidx.east);
	\draw[dep] (tdc.south) to[out=-105,in=30] node[lbl,pos=0.35,above] {gather_functions} (vGat.north east);
	\draw[inh] (vSeg.west) -- (stdSeg.east);
	\draw[dep] (layout.west) to[out=170,in=0] node[lbl,pos=0.5,above] {aggregates} (vAO.east);
	\draw[dep] (layout.west) to[out=190,in=0] (vIdx.east);
	\node[lbl] at (2519,6668) {aggr_destructor_idxs\\offsets\\sort_skippable_bytes\\variable_columns};
	\draw[dep] (layout.west) to[out=200,in=0] node[lbl,pos=0.5,above] {struct_layouts} (uUM.east);
	\draw[dep] (layout.west) to[out=210,in=0] node[lbl,pos=0.5,above] {types} (vLT.east);
	\draw[inh] (vAO.west) -- (stdAO.east);
	\draw[inh] (vIdx.west) -- (stdIdx.east);
	\draw[inh] (uUM.west) -- (baseUM.east);
	\draw[inh] (vLT.west) -- (stdLT.east);
	\draw[inh] (vScat.west) to[out=200,in=0] (stdScat.east);
	\draw[inh] (vGat.south west) to[out=200,in=20] (stdGat.north east);
\end{tikzpicture}
\end{document}
